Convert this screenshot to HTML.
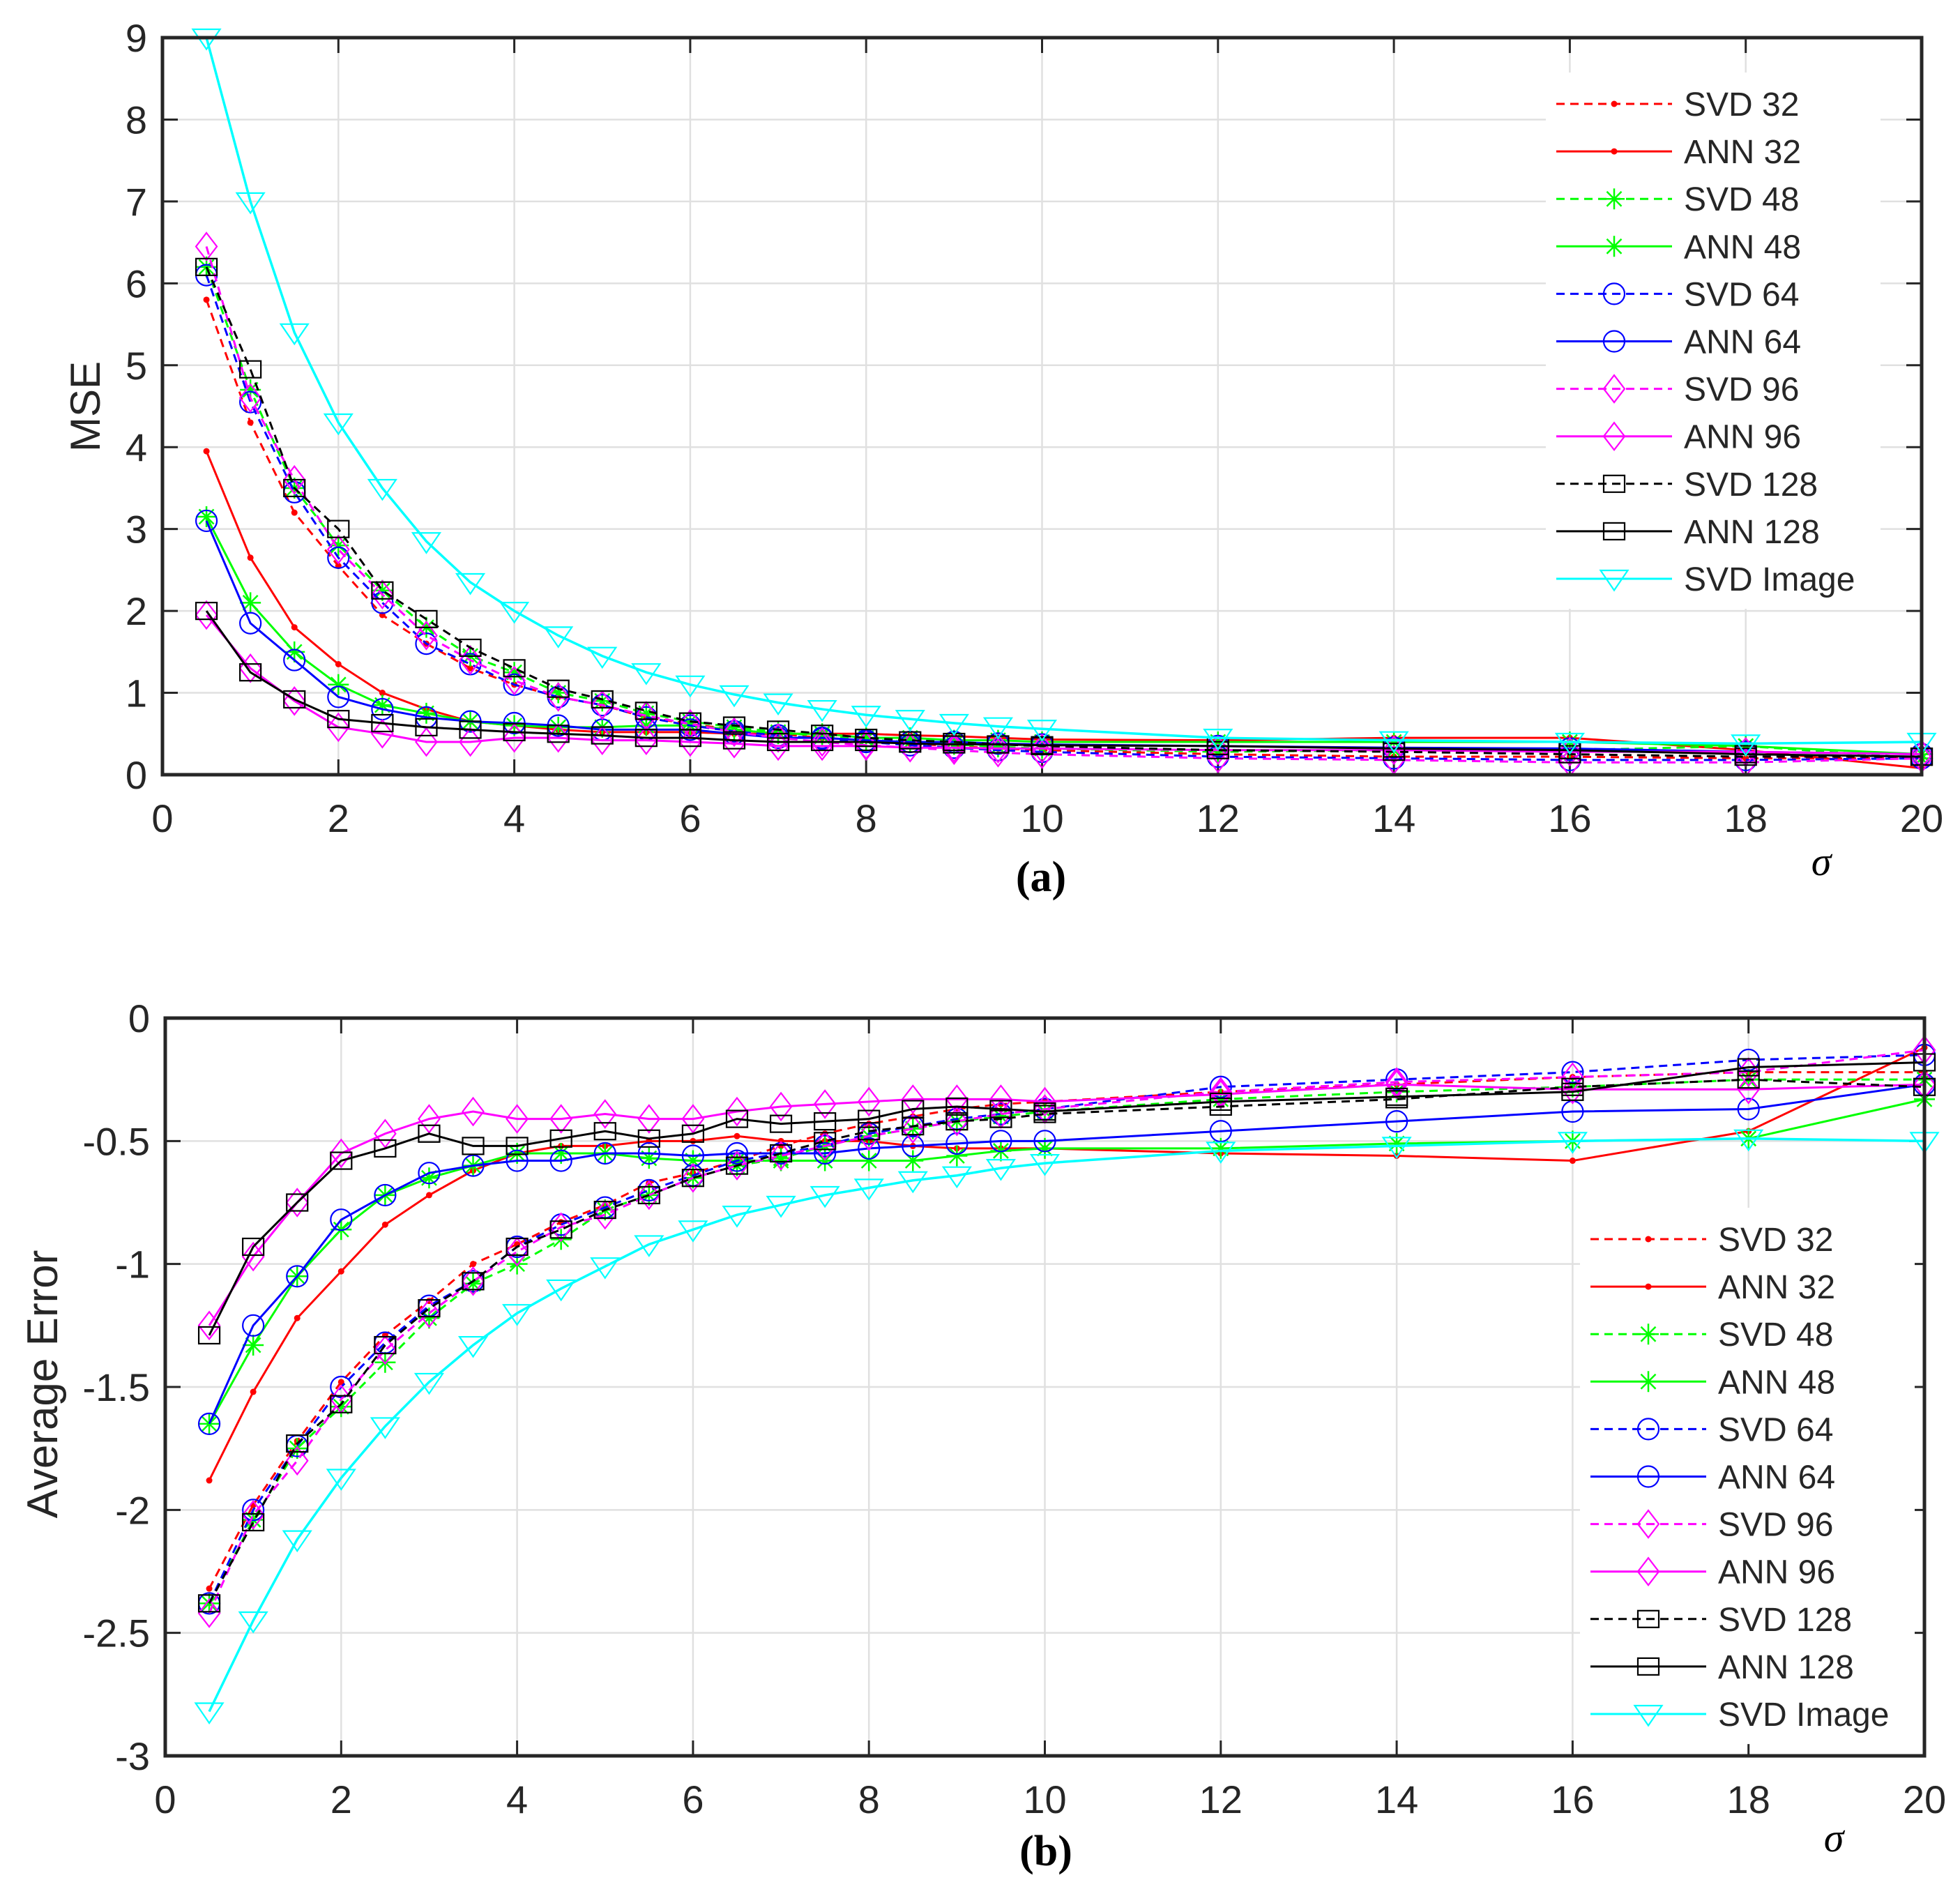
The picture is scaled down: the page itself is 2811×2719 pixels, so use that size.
<!DOCTYPE html>
<html><head><meta charset="utf-8"><style>
body{margin:0;background:#fff}
svg{display:block}
text{font-family:"Liberation Sans",sans-serif;fill:#262626}
</style></head><body>
<svg id="chart" width="2811" height="2719" viewBox="0 0 2811 2719" xmlns="http://www.w3.org/2000/svg">
<rect width="2811" height="2719" fill="#fff"/>
</svg>
<script>
const xVals=[0.5,1,1.5,2,2.5,3,3.5,4,4.5,5,5.5,6,6.5,7,7.5,8,8.5,9,9.5,10,12,14,16,18,20];
const seriesNames=["SVD 32","ANN 32","SVD 48","ANN 48","SVD 64","ANN 64","SVD 96","ANN 96","SVD 128","ANN 128","SVD Image"];
const seriesColors=["#ff0000","#ff0000","#00ff00","#00ff00","#0000ff","#0000ff","#ff00ff","#ff00ff","#000000","#000000","#00ffff"];
const seriesDash=[true,false,true,false,true,false,true,false,true,false,false];
const seriesMarker=["dot","dot","star","star","circle","circle","diamond","diamond","square","square","tri"];
const xTicks=[0,2,4,6,8,10,12,14,16,18,20];
const yTicksA=[0,1,2,3,4,5,6,7,8,9];
const yTicksB=[-3,-2.5,-2,-1.5,-1,-0.5,0];
const mseSVD32=[5.8,4.3,3.2,2.55,1.95,1.6,1.3,1.1,0.95,0.85,0.7,0.62,0.55,0.5,0.45,0.42,0.38,0.35,0.32,0.3,0.25,0.22,0.22,0.2,0.2];
const mseANN32=[3.95,2.65,1.8,1.35,1.0,0.8,0.65,0.6,0.55,0.52,0.52,0.52,0.5,0.5,0.5,0.5,0.48,0.47,0.45,0.43,0.42,0.45,0.45,0.3,0.08];
const mseSVD48=[6.2,4.7,3.5,2.8,2.25,1.8,1.45,1.25,1.0,0.9,0.75,0.65,0.58,0.52,0.47,0.43,0.4,0.37,0.34,0.32,0.28,0.3,0.3,0.35,0.2];
const mseANN48=[3.15,2.1,1.5,1.1,0.85,0.75,0.65,0.6,0.58,0.58,0.6,0.6,0.55,0.5,0.5,0.45,0.45,0.42,0.42,0.4,0.4,0.4,0.4,0.35,0.25];
const mseSVD64=[6.1,4.55,3.45,2.65,2.1,1.6,1.35,1.1,0.95,0.85,0.7,0.6,0.53,0.48,0.44,0.4,0.36,0.33,0.3,0.28,0.22,0.2,0.18,0.18,0.2];
const mseANN64=[3.1,1.85,1.4,0.95,0.8,0.7,0.65,0.63,0.6,0.55,0.55,0.55,0.5,0.45,0.45,0.42,0.4,0.4,0.38,0.37,0.35,0.33,0.32,0.28,0.25];
const mseSVD96=[6.45,4.6,3.6,2.75,2.2,1.7,1.4,1.15,0.95,0.85,0.72,0.62,0.52,0.45,0.4,0.36,0.33,0.3,0.27,0.25,0.2,0.18,0.15,0.15,0.2];
const mseANN96=[1.95,1.3,0.9,0.58,0.5,0.4,0.4,0.45,0.45,0.42,0.42,0.4,0.38,0.35,0.35,0.35,0.33,0.33,0.32,0.32,0.3,0.3,0.28,0.28,0.25];
const mseSVD128=[6.2,4.95,3.5,3.0,2.25,1.9,1.55,1.3,1.05,0.92,0.78,0.65,0.6,0.55,0.5,0.45,0.42,0.4,0.37,0.35,0.3,0.28,0.25,0.22,0.22];
const mseANN128=[2.0,1.25,0.92,0.68,0.63,0.58,0.55,0.52,0.5,0.48,0.45,0.45,0.42,0.4,0.4,0.4,0.38,0.37,0.37,0.36,0.35,0.32,0.3,0.25,0.22];
const mseSVDImage=[9,7,5.4,4.3,3.5,2.85,2.35,2.0,1.7,1.45,1.25,1.1,0.98,0.88,0.8,0.73,0.68,0.63,0.59,0.56,0.45,0.42,0.4,0.38,0.4];
const errSVD32=[-2.32,-1.98,-1.72,-1.48,-1.29,-1.15,-1.0,-0.92,-0.83,-0.76,-0.67,-0.63,-0.58,-0.52,-0.47,-0.43,-0.4,-0.37,-0.35,-0.34,-0.3,-0.27,-0.24,-0.22,-0.22];
const errANN32=[-1.88,-1.52,-1.22,-1.03,-0.84,-0.72,-0.62,-0.55,-0.52,-0.52,-0.5,-0.5,-0.48,-0.5,-0.5,-0.5,-0.52,-0.53,-0.53,-0.53,-0.55,-0.56,-0.58,-0.46,-0.12];
const errSVD48=[-2.38,-2.04,-1.75,-1.58,-1.4,-1.22,-1.08,-1.0,-0.9,-0.78,-0.72,-0.65,-0.6,-0.57,-0.52,-0.48,-0.45,-0.42,-0.4,-0.38,-0.33,-0.3,-0.28,-0.25,-0.25];
const errANN48=[-1.65,-1.33,-1.05,-0.86,-0.72,-0.65,-0.6,-0.55,-0.55,-0.55,-0.57,-0.58,-0.58,-0.58,-0.58,-0.58,-0.58,-0.56,-0.54,-0.53,-0.53,-0.51,-0.5,-0.49,-0.33];
const errSVD64=[-2.38,-2.0,-1.74,-1.5,-1.32,-1.17,-1.07,-0.93,-0.84,-0.77,-0.7,-0.64,-0.58,-0.55,-0.52,-0.47,-0.44,-0.41,-0.39,-0.37,-0.28,-0.25,-0.22,-0.17,-0.15];
const errANN64=[-1.65,-1.25,-1.05,-0.82,-0.72,-0.63,-0.6,-0.58,-0.58,-0.55,-0.55,-0.56,-0.55,-0.55,-0.55,-0.53,-0.52,-0.51,-0.5,-0.5,-0.46,-0.42,-0.38,-0.37,-0.27];
const errSVD96=[-2.42,-2.02,-1.8,-1.55,-1.35,-1.2,-1.07,-0.95,-0.85,-0.8,-0.72,-0.65,-0.6,-0.56,-0.52,-0.48,-0.45,-0.42,-0.39,-0.37,-0.3,-0.26,-0.24,-0.22,-0.13];
const errANN96=[-1.25,-0.97,-0.75,-0.55,-0.47,-0.41,-0.38,-0.41,-0.41,-0.39,-0.41,-0.41,-0.38,-0.36,-0.35,-0.34,-0.33,-0.33,-0.33,-0.34,-0.31,-0.27,-0.29,-0.29,-0.27];
const errSVD128=[-2.38,-2.05,-1.73,-1.57,-1.33,-1.18,-1.07,-0.93,-0.86,-0.78,-0.72,-0.65,-0.6,-0.55,-0.5,-0.46,-0.44,-0.42,-0.41,-0.39,-0.36,-0.33,-0.28,-0.25,-0.28];
const errANN128=[-1.29,-0.93,-0.75,-0.58,-0.53,-0.47,-0.52,-0.52,-0.49,-0.46,-0.49,-0.47,-0.41,-0.43,-0.42,-0.41,-0.37,-0.36,-0.37,-0.38,-0.34,-0.32,-0.3,-0.2,-0.18];
const errSVDImage=[-2.82,-2.45,-2.12,-1.87,-1.66,-1.48,-1.33,-1.2,-1.1,-1.01,-0.92,-0.86,-0.8,-0.76,-0.72,-0.69,-0.66,-0.64,-0.61,-0.59,-0.54,-0.52,-0.5,-0.49,-0.5];

const NS="http://www.w3.org/2000/svg";
const svg=document.getElementById('chart');
function mk(tag,attrs,parent){const e=document.createElementNS(NS,tag);for(const k in attrs)e.setAttribute(k,attrs[k]);(parent||svg).appendChild(e);return e;}

function marker(g,type,x,y,c){
  const r=15;let m;
  if(type==="dot"){m=mk('circle',{cx:x,cy:y,r:4.5,fill:c},g);}
  else if(type==="star"){m=mk('path',{d:`M${x-r} ${y}H${x+r}M${x} ${y-r}V${y+r}M${x-r*.7} ${y-r*.7}L${x+r*.7} ${y+r*.7}M${x-r*.7} ${y+r*.7}L${x+r*.7} ${y-r*.7}`,stroke:c,'stroke-width':2.5,fill:'none'},g);}
  else if(type==="circle"){m=mk('circle',{cx:x,cy:y,r:r,stroke:c,'stroke-width':2.2,fill:'none'},g);}
  else if(type==="diamond"){m=mk('path',{d:`M${x} ${y-r*1.3}L${x+r} ${y}L${x} ${y+r*1.3}L${x-r} ${y}Z`,stroke:c,'stroke-width':2.2,fill:'none'},g);}
  else if(type==="square"){m=mk('rect',{x:x-r,y:y-r*0.8,width:2*r,height:1.6*r,stroke:c,'stroke-width':2.2,fill:'none'},g);}
  else {m=mk('path',{d:`M${x-r*1.3} ${y-r*0.8}L${x+r*1.3} ${y-r*0.8}L${x} ${y+r*1.1}Z`,stroke:c,'stroke-width':2.2,fill:'none'},g);}
  
  
}

function drawPlot(cfg){
  const {L,R,T,B,ymin,ymax,yTicks,data,legX,legY,name}=cfg;
  const sx=v=>L+(v-0)/(20-0)*(R-L);
  const sy=v=>B-(v-ymin)/(ymax-ymin)*(B-T);
  const g=mk('g',{});
  
  
  const grid=mk('g',{stroke:'#e0e0e0','stroke-width':2.5},g);
  
  
  xTicks.forEach(t=>mk('line',{x1:sx(t),x2:sx(t),y1:T,y2:B},grid));
  yTicks.forEach(t=>mk('line',{x1:L,x2:R,y1:sy(t),y2:sy(t)},grid));
  const ticks=mk('g',{stroke:'#262626','stroke-width':3},g);
  xTicks.forEach(t=>{mk('line',{x1:sx(t),x2:sx(t),y1:B,y2:B-22},ticks);mk('line',{x1:sx(t),x2:sx(t),y1:T,y2:T+22},ticks);});
  yTicks.forEach(t=>{mk('line',{x1:L,x2:L+22,y1:sy(t),y2:sy(t)},ticks);mk('line',{x1:R,x2:R-22,y1:sy(t),y2:sy(t)},ticks);});
  const xl=mk('g',{},g);
  
  
  xTicks.forEach(t=>{const tx=mk('text',{x:sx(t),y:B+82,'font-size':56,'text-anchor':'middle'},xl);tx.textContent=t;});
  const yl=mk('g',{},g);
  
  
  yTicks.forEach(t=>{const tx=mk('text',{x:L-22,y:sy(t)+20,'font-size':56,'text-anchor':'end'},yl);tx.textContent=t;});
  const clip=mk('clipPath',{id:'clip'+name},g);mk('rect',{x:L,y:T-30,width:R-L+30,height:B-T+30},clip);
  const sg=mk('g',{'clip-path':`url(#clip${name})`},g);
  data.forEach((arr,i)=>{
    const s=mk('g',{},sg);
    
    
    const pts=arr.map((v,j)=>sx(xVals[j])+','+sy(v)).join(' ');
    const pl=mk('polyline',{points:pts,fill:'none',stroke:seriesColors[i],'stroke-width':seriesMarker[i]==="tri"?3.5:3,'stroke-dasharray':seriesDash[i]?'12 8':'none'},s);
    
    
    arr.forEach((v,j)=>marker(s,seriesMarker[i],sx(xVals[j]),sy(v),seriesColors[i]));
  });
  const box=mk('rect',{x:L,y:T,width:R-L,height:B-T,fill:'none',stroke:'#262626','stroke-width':5},g);
  
  
  const lg=mk('g',{},g);
  
  
  mk('rect',{x:legX-15,y:legY-45,width:480,height:68.1*11+20,fill:'#fff'},lg);
  seriesNames.forEach((n,i)=>{
    const y=legY+i*68.1;
    const e=mk('g',{},lg);
    
    
    mk('line',{x1:legX,x2:legX+166,y1:y,y2:y,stroke:seriesColors[i],'stroke-width':3,'stroke-dasharray':seriesDash[i]?'12 8':'none'},e);
    marker(e,seriesMarker[i],legX+83,y,seriesColors[i]);
    const tx=mk('text',{x:legX+183,y:y+17,'font-size':48,fill:'#000'},e);tx.textContent=n;
  });
}
drawPlot({name:'plot-a',L:233,R:2756,T:54,B:1111,ymin:0,ymax:9,yTicks:yTicksA,
  data:[mseSVD32,mseANN32,mseSVD48,mseANN48,mseSVD64,mseANN64,mseSVD96,mseANN96,mseSVD128,mseANN128,mseSVDImage],legX:2232,legY:149});
drawPlot({name:'plot-b',L:237,R:2760,T:1460,B:2518,ymin:-3,ymax:0,yTicks:yTicksB,
  data:[errSVD32,errANN32,errSVD48,errANN48,errSVD64,errANN64,errSVD96,errANN96,errSVD128,errANN128,errSVDImage],legX:2281,legY:1777});
function label(txt,attrs,nm){const t=mk('text',attrs);t.textContent=txt;}
label('MSE',{x:0,y:0,'font-size':60,'text-anchor':'middle',transform:'translate(143,583) rotate(-90)'},'y-axis-title-a');
label('Average Error',{x:0,y:0,'font-size':62,'text-anchor':'middle',transform:'translate(82,1985) rotate(-90)'},'y-axis-title-b');
label('(a)',{x:1493,y:1278,'font-size':62,'font-weight':'bold','text-anchor':'middle',style:'font-family:"Liberation Serif",serif;fill:#000'},'caption-a');
label('(b)',{x:1500,y:2675,'font-size':62,'font-weight':'bold','text-anchor':'middle',style:'font-family:"Liberation Serif",serif;fill:#000'},'caption-b');
label('σ',{x:2612,y:1255,'font-size':58,'font-style':'italic','text-anchor':'middle',style:'font-family:"Liberation Serif",serif;fill:#000'},'x-axis-title-a');
label('σ',{x:2630,y:2655,'font-size':58,'font-style':'italic','text-anchor':'middle',style:'font-family:"Liberation Serif",serif;fill:#000'},'x-axis-title-b');
</script>
</body></html>
